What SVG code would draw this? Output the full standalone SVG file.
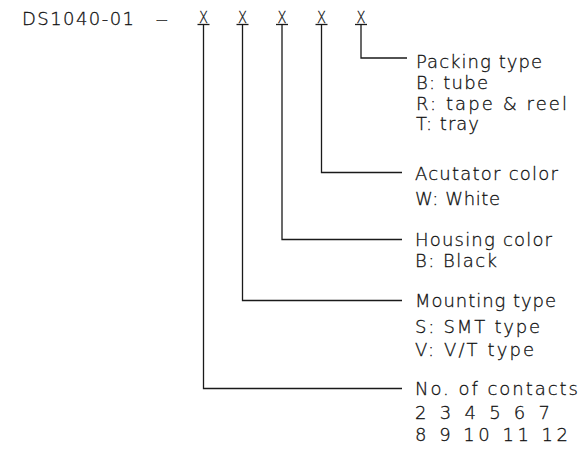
<svg xmlns="http://www.w3.org/2000/svg" width="585" height="454" viewBox="0 0 585 454">
<style>
text{font-family:"DejaVu Sans","Liberation Sans",sans-serif;font-weight:200;font-size:18px;fill:#111;stroke:#111;stroke-width:0.3px}
.x{font-size:16px;text-anchor:middle}
.c line,.c polyline{stroke:#1a1a1a;stroke-width:1.3;fill:none}
</style>
<rect width="585" height="454" fill="#fff"/>
<g id="title">
<text x="22" y="24.5" textLength="112" lengthAdjust="spacing">DS1040-01</text>
<text transform="translate(155,24.5) scale(2.1,1)">-</text>
</g>
<g id="codes">
<text class="x" x="203.5" y="23" textLength="9" lengthAdjust="spacingAndGlyphs">X</text>
<text class="x" x="242.5" y="23" textLength="9" lengthAdjust="spacingAndGlyphs">X</text>
<text class="x" x="282" y="23" textLength="9" lengthAdjust="spacingAndGlyphs">X</text>
<text class="x" x="321.5" y="23" textLength="9" lengthAdjust="spacingAndGlyphs">X</text>
<text class="x" x="361" y="23" textLength="9" lengthAdjust="spacingAndGlyphs">X</text>
</g>
<g id="connectors" class="c">
<line x1="197.5" y1="24.5" x2="209.5" y2="24.5"/>
<line x1="236.5" y1="24.5" x2="248.5" y2="24.5"/>
<line x1="276" y1="24.5" x2="288" y2="24.5"/>
<line x1="315.5" y1="24.5" x2="327.5" y2="24.5"/>
<line x1="355" y1="24.5" x2="367" y2="24.5"/>
<polyline points="361,24.5 361,58 407,58"/>
<polyline points="321.5,24.5 321.5,172.5 402,172.5"/>
<polyline points="282,24.5 282,239.5 402,239.5"/>
<polyline points="242.5,24.5 242.5,300.5 402,300.5"/>
<polyline points="203.5,24.5 203.5,388.5 402,388.5"/>
</g>
<g id="packing">
<text x="416" y="68" textLength="126" lengthAdjust="spacing">Packing type</text>
<text x="416" y="89" textLength="72" lengthAdjust="spacing">B: tube</text>
<text x="416" y="110" textLength="151" lengthAdjust="spacing">R: tape &amp; reel</text>
<text x="416" y="130" textLength="63" lengthAdjust="spacing">T: tray</text>
</g>
<g id="actuator">
<text x="415" y="179.5" textLength="143" lengthAdjust="spacing">Acutator color</text>
<text x="415" y="205" textLength="85" lengthAdjust="spacing">W: White</text>
</g>
<g id="housing">
<text x="415" y="246" textLength="137" lengthAdjust="spacing">Housing color</text>
<text x="415" y="266.5" textLength="82" lengthAdjust="spacing">B: Black</text>
</g>
<g id="mounting">
<text x="415" y="307" textLength="141" lengthAdjust="spacing">Mounting type</text>
<text x="415" y="333" textLength="125" lengthAdjust="spacing">S: SMT type</text>
<text x="415" y="355.5" textLength="119" lengthAdjust="spacing">V: V/T type</text>
</g>
<g id="contacts">
<text x="415" y="394.5" textLength="163" lengthAdjust="spacing">No. of contacts</text>
<text x="415" y="418.5" textLength="135" lengthAdjust="spacing">2 3 4 5 6 7</text>
<text x="415" y="441" textLength="153" lengthAdjust="spacing">8 9 10 11 12</text>
</g>
</svg>
